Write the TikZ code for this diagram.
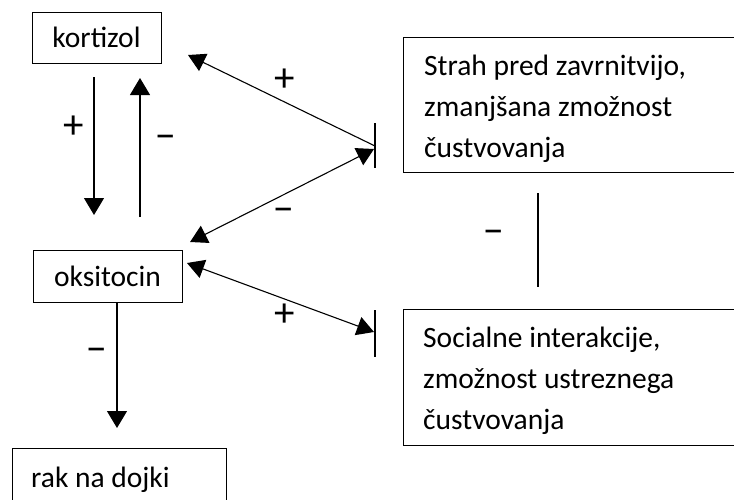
\documentclass[tikz,border=0pt]{standalone}
\usepackage{fontspec}
\setmainfont{Carlito}
\usetikzlibrary{arrows.meta}
\begin{document}
\begin{tikzpicture}[x=1pt,y=-1pt,
  box/.style={draw, line width=1pt, inner sep=0pt},
  txt/.style={font=\fontsize{29.5}{41}\selectfont, inner sep=0pt},
  sign/.style={font=\fontsize{41}{45}\selectfont, inner sep=0pt},
  link/.style={line width=1.1pt},
  head/.style={-{Triangle[length=17pt,width=20pt]}},
  dhead/.style={{Triangle[length=17pt,width=19pt]}-{Triangle[length=17pt,width=19pt]}},
  lhead/.style={{Triangle[length=17pt,width=19pt]}-},
  stop/.style={line width=1.1pt}]
\useasboundingbox (0,0) rectangle (734,499);
\clip (0,0) rectangle (734,499);

% hormone boxes
\node[box, txt, minimum width=129pt, minimum height=51pt] (kort) at (96.5,37.5) {kortizol};
\node[box, txt, minimum width=149pt, minimum height=52pt] (oksi) at (107.5,276) {oksitocin};
\node[box, minimum width=214pt, minimum height=80pt, anchor=north west] (rak) at (12,448) {};
\node[txt, anchor=base west] (raktxt) at (31,487) {rak na dojki};

% behaviour boxes on the right
\node[box, minimum width=400pt, minimum height=135pt, anchor=north west] (strah) at (403,37) {};
\node[txt, anchor=north west, align=left] (strahtxt) at (424,46.3)
  {\strut Strah pred zavrnitvijo,\\ zmanjšana zmožnost\\ čustvovanja};
\node[box, minimum width=400pt, minimum height=136pt, anchor=north west] (soc) at (403,309) {};
\node[txt, anchor=north west, align=left] (soctxt) at (423,318.3)
  {\strut Socialne interakcije,\\ zmožnost ustreznega\\ čustvovanja};

% end points of the connectors
\coordinate (kd1) at (94,77);   \coordinate (kd2) at (94,215);
\coordinate (ku1) at (140,217); \coordinate (ku2) at (140,78);
\coordinate (bs1) at (375,123); \coordinate (bs2) at (375,168);
\coordinate (bo1) at (375,310); \coordinate (bo2) at (375,357);
\coordinate (d1a) at (188,55);  \coordinate (d1b) at (375,146);
\coordinate (d2a) at (190,242); \coordinate (d2b) at (374,149);
\coordinate (d3a) at (187,263); \coordinate (d3b) at (374,332);
\coordinate (od) at (117,428);
\coordinate (m1) at (538,193);  \coordinate (m2) at (538,287);

% kortizol <-> oksitocin
\draw[link, head] (kd1) -- (kd2);
\draw[link, head] (ku1) -- (ku2);
\node[sign] (s1) at (74,127) {+};
\node[sign] (s2) at (166,142) {−};

% links to the right-hand boxes
\draw[stop] (bs1) -- (bs2);
\draw[stop] (bo1) -- (bo2);
\draw[link, lhead] (d1a) -- (d1b);
\draw[link, dhead] (d2a) -- (d2b);
\draw[link, dhead] (d3a) -- (d3b);
\node[sign] (s3) at (285,80.5) {+};
\node[sign] (s4) at (284,215) {−};
\node[sign] (s5) at (285,315) {+};

% between the two right-hand boxes
\draw[link] (m1) -- (m2);
\node[sign] (s6) at (494,237) {−};

% oksitocin -> rak na dojki
\draw[link, head] (od |- oksi.south) -- (od);
\node[sign] (s7) at (97,355) {−};
\end{tikzpicture}
\end{document}
